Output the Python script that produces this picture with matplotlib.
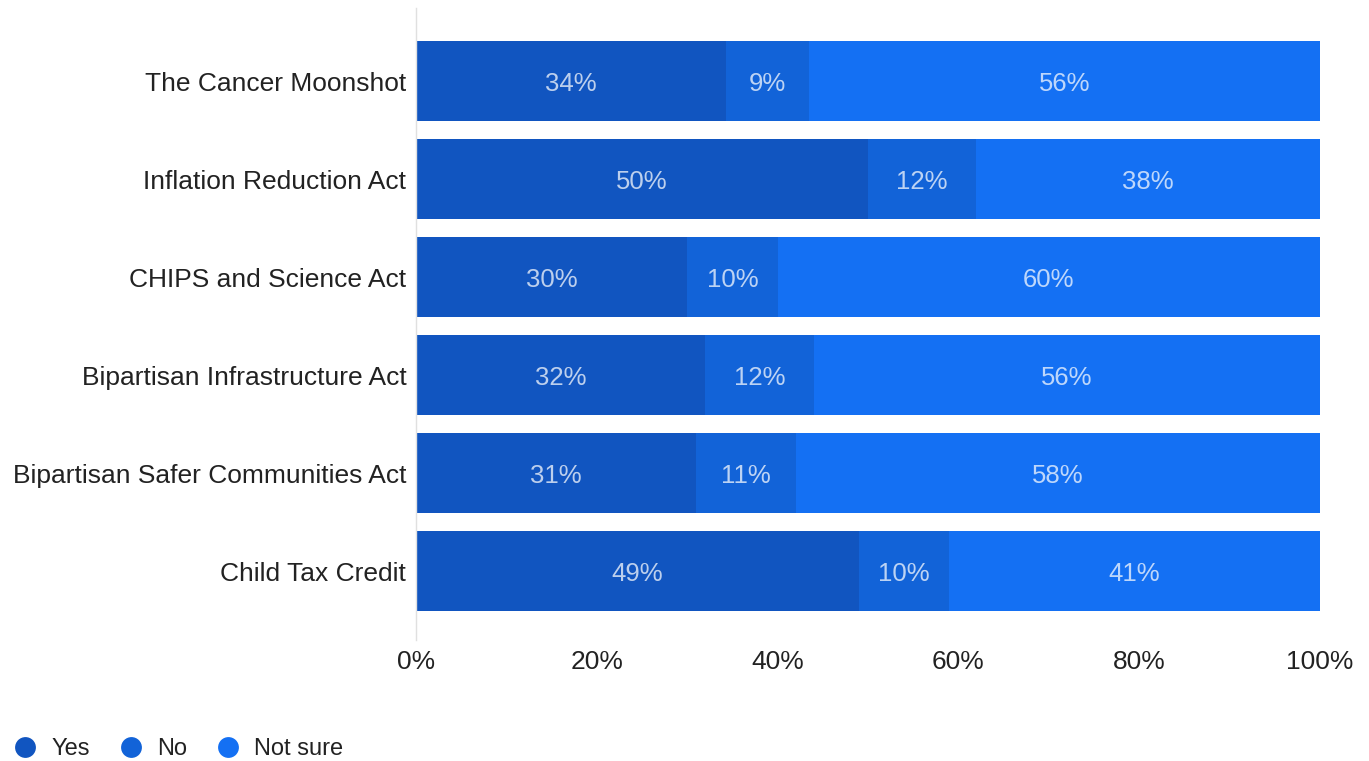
import matplotlib
matplotlib.use("Agg")
import matplotlib.pyplot as plt
import numpy as np
from matplotlib.lines import Line2D

categories = ["The Cancer Moonshot", "Inflation Reduction Act", "CHIPS and Science Act",
              "Bipartisan Infrastructure Act", "Bipartisan Safer Communities Act", "Child Tax Credit"]
yes = [34, 50, 30, 32, 31, 49]
no = [9, 12, 10, 12, 11, 10]
not_sure = [56, 38, 60, 56, 58, 41]
series_names = ["Yes", "No", "Not sure"]
colors = ["#1155C0", "#1263D8", "#1470F3"]
xticks = [0, 20, 40, 60, 80, 100]

plt.rcParams['font.family'] = ['Liberation Sans', 'DejaVu Sans']

fig = plt.figure(figsize=(13.69, 7.61), dpi=100)
ax = fig.add_axes([416/1369, 1-640/761, (1320-416)/1369, (640-8)/761])

data = np.array([yes, no, not_sure], dtype=float)
totals = data.sum(axis=0)
shares = data / totals * 100  # bars are stacked to 100%

y = np.arange(len(categories))
left = np.zeros(len(categories))
for raw, vals, c in zip(data, shares, colors):
    ax.barh(y, vals, left=left, height=0.826, color=c, edgecolor='none')
    for yi, l, v, r in zip(y, left, vals, raw):
        ax.text(l + v/2, yi, f"{int(r)}%", ha='center', va='center_baseline',
                color='white', alpha=0.72, fontsize=18.5)
    left = left + vals

ax.set_xlim(0, 100)
ax.set_ylim(5.704, -0.745)
ax.set_yticks(y)
ax.set_yticklabels(categories, fontsize=19, color='#222222')
ax.set_xticks(xticks)
ax.set_xticklabels([f"{t}%" for t in xticks], fontsize=19, color='#222222')
ax.tick_params(axis='both', length=0)
ax.tick_params(axis='x', pad=7)
ax.tick_params(axis='y', pad=7)
for s in ['top', 'right', 'bottom']:
    ax.spines[s].set_visible(False)
ax.spines['left'].set_color('#e0e0e0')
ax.spines['left'].set_linewidth(1)

handles = [Line2D([0], [0], marker='o', linestyle='none', markersize=15,
                  markerfacecolor=c, markeredgecolor='none') for c in colors]
fig.legend(handles, series_names, loc='center left', bbox_to_anchor=(-0.0075, 1-749/761),
           ncol=3, frameon=False, fontsize=17, handletextpad=0.5, columnspacing=1.15,
           handlelength=1.2, labelcolor='#222222')

fig.savefig("out.png", dpi=100)
